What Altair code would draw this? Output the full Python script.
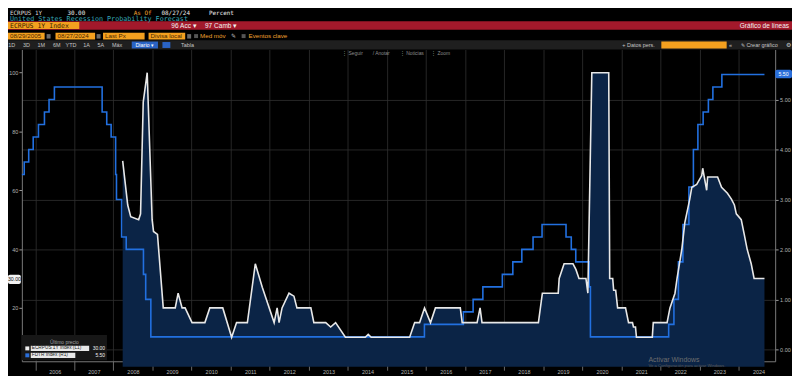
import altair as alt
import pandas as pd

# ---------------- data ----------------
ecr_dates = ["2008-03-28", "2008-05-14", "2008-06-11", "2008-08-24", "2008-09-11", "2008-10-06", "2008-11-12", "2008-12-28",
             "2009-01-10", "2009-02-16", "2009-04-11", "2009-08-01", "2009-08-28", "2009-10-04", "2009-11-01",
             "2010-01-05", "2010-05-05", "2010-06-20", "2010-10-19",
             "2011-01-10", "2011-02-25", "2011-06-06", "2011-08-19", "2011-10-23",
             "2012-02-11", "2012-03-10", "2012-03-28", "2012-04-25", "2012-06-29", "2012-08-14", "2012-09-11",
             "2013-01-19", "2013-02-16", "2013-06-07", "2013-07-23", "2013-09-07", "2013-12-08",
             "2014-06-11", "2014-07-09", "2014-08-06",
             "2015-07-31", "2015-09-16", "2015-11-01", "2015-12-17",
             "2016-02-11", "2016-03-28", "2016-11-15", "2016-12-03",
             "2017-04-21", "2017-05-19", "2017-06-06",
             "2018-11-15", "2018-12-22",
             "2019-05-19", "2019-05-28", "2019-07-13", "2019-10-04", "2019-11-01", "2019-11-29",
             "2020-02-02", "2020-02-20", "2020-03-28", "2020-09-02", "2020-09-11", "2020-10-09", "2020-10-18", "2020-11-06", "2020-11-24",
             "2021-02-06", "2021-03-06", "2021-04-12", "2021-04-21", "2021-05-10", "2021-05-19", "2021-10-14", "2021-10-23",
             "2022-03-01", "2022-03-28", "2022-05-14", "2022-06-02", "2022-07-17", "2022-08-14", "2022-09-29", "2022-10-18", "2022-12-03",
             "2023-01-19", "2023-01-28", "2023-03-06", "2023-03-15", "2023-06-16", "2023-07-23", "2023-09-16", "2023-10-23", "2023-11-20", "2023-12-08",
             "2024-01-23", "2024-02-20", "2024-03-18", "2024-04-25", "2024-05-22", "2024-08-27"]
ecr_values = [70, 55, 51, 50, 52, 90, 100, 50,
              46, 45, 20, 20, 25, 20, 20,
              15, 15, 20, 20,
              10, 15, 15, 35, 27,
              15, 20, 15, 20, 25, 24, 20,
              20, 15, 15, 13.5, 15, 10,
              10, 11, 10,
              10, 15, 15, 20,
              15, 20, 20, 15,
              15, 20, 15,
              15, 25,
              25, 30, 35, 35, 33, 30,
              30, 25, 100, 100, 30, 30, 26, 26, 20,
              20, 15, 15, 13.5, 13.5, 10, 10, 15,
              15, 20, 25, 30, 40, 49, 57, 61, 62,
              65, 67.5, 60, 64.5, 64.5, 61, 59, 57, 55, 52,
              50, 45, 40, 35, 30, 30]

fdtr_dates = ["2005-08-29", "2005-09-20", "2005-11-01", "2005-12-13", "2006-01-31", "2006-03-28", "2006-05-10", "2006-06-29",
              "2007-09-18", "2007-10-31", "2007-12-11", "2008-01-22", "2008-01-30", "2008-03-18", "2008-04-30",
              "2008-10-08", "2008-10-29", "2008-12-16", "2015-12-16", "2016-12-14", "2017-03-15", "2017-06-14",
              "2017-12-13", "2018-03-21", "2018-06-13", "2018-09-26", "2018-12-19", "2019-07-31", "2019-09-18",
              "2019-10-30", "2020-03-03", "2020-03-15", "2022-03-16", "2022-05-04", "2022-06-15", "2022-07-27",
              "2022-09-21", "2022-11-02", "2022-12-14", "2023-02-01", "2023-03-22", "2023-05-03", "2023-07-26",
              "2024-08-27"]
fdtr_values = [3.50, 3.75, 4.00, 4.25, 4.50, 4.75, 5.00, 5.25,
               4.75, 4.50, 4.25, 3.50, 3.00, 2.25, 2.00,
               1.50, 1.00, 0.25, 0.50, 0.75, 1.00, 1.25,
               1.50, 1.75, 2.00, 2.25, 2.50, 2.25, 2.00,
               1.75, 1.25, 0.25, 0.50, 1.00, 1.75, 2.50,
               3.25, 4.00, 4.50, 4.75, 5.00, 5.25, 5.50,
               5.50]

year_ticks = list(range(2006, 2025))
left_ticks = [20, 40, 60, 80, 100]
right_ticks = [0, 1, 2, 3, 4, 5]

# ---------------- layout ----------------
OX, OY = 22, 48          # plot origin on the page
W, H = 761, 315

ecr_df = pd.DataFrame({"date": ecr_dates, "v": ecr_values})
fdtr_df = pd.DataFrame({"date": fdtr_dates, "r": fdtr_values})

xscale = alt.Scale(type="utc",
                   domain=[alt.DateTime(year=2005, month=8, date=29, utc=True),
                           alt.DateTime(year=2024, month=12, date=5, utc=True)])
xaxis = alt.Axis(values=[alt.DateTime(year=y, month=1, date=1, utc=True) for y in year_ticks],
                 format="%Y", labelOffset=19.75, tickSize=9, labelPadding=-1,
                 grid=True, gridColor="#303030", gridWidth=0.8,
                 domainColor="#7a7a7a", tickColor="#6a6a6a", labelColor="#b4b4b4",
                 labelFontSize=5.5, labelFlush=False, labelOverlap=False, title=None)
lscale = alt.Scale(domain=[1.85, 107.9], nice=False, zero=False)
rscale = alt.Scale(domain=[-0.2376, 6.0], nice=False, zero=False)
laxis = alt.Axis(values=left_ticks, orient="left", grid=False, tickSize=3, labelPadding=1,
                 domainColor="#7a7a7a", tickColor="#9a9a9a", labelColor="#b4b4b4",
                 labelFontSize=5.5, title=None)
raxis = alt.Axis(values=right_ticks, orient="right", format=".2f", grid=True,
                 gridColor="#303030", gridWidth=0.8, tickSize=3, labelPadding=1.5,
                 domainColor="#7a7a7a", tickColor="#9a9a9a", labelColor="#b4b4b4",
                 labelFontSize=5.5, title=None)

X = alt.X("date:T", scale=xscale, axis=xaxis)

area = alt.Chart(ecr_df).mark_area(color="#0b2446").encode(
    x=X, y=alt.Y("v:Q", scale=lscale, axis=laxis), y2=alt.value(H))
blue = alt.Chart(fdtr_df).mark_line(color="#2270e0", strokeWidth=1.6, interpolate="step-after").encode(
    x=X, y=alt.Y("r:Q", scale=rscale, axis=raxis))
white = alt.Chart(ecr_df).mark_line(color="#e8e8e8", strokeWidth=1.6).encode(
    x=X, y=alt.Y("v:Q", scale=lscale, axis=None))

# ---------------- terminal chrome (page coordinates) ----------------
ORANGE = "#f3a01f"
BLUE_BTN = "#2a63c4"
rects = [
    (0, 19.6, 800, 28, "#a2192b"),
    (8, 20.3, 80, 27.3, ORANGE),
    (8, 31, 45, 38, ORANGE), (56, 31, 96, 38, ORANGE),
    (104, 31, 146, 38, ORANGE), (150, 31, 187, 38, ORANGE),
    (47, 32.5, 51, 37, "#6a6a6a"), (97.5, 32.5, 101.5, 37, "#6a6a6a"), (189, 32.5, 193, 37, "#6a6a6a"),
    (196, 32.5, 200, 36.5, "#555555"), (244, 32.5, 248, 36.5, "#555555"),
    (0, 38.8, 800, 48, "#1f1f1f"),
    (133, 40, 159.5, 47, BLUE_BTN), (164, 40.5, 172, 46.5, BLUE_BTN),
    (668, 40, 734, 47, ORANGE),
    (22, 336.5, 108, 362, "#171717"),
    (25.5, 348, 29.5, 352, "#f0f0f0"), (31, 347.3, 90, 352.7, "#e8e8e8"),
    (25.5, 355, 29.5, 359, "#2a6fdb"), (31, 354.3, 76, 359.7, "#e8e8e8"),
]
tags = [
    (8, 275.5, 21, 285, "#f2f2f2"),
    (783, 68.5, 800, 77, "#2a6fdb"),
]
MONO = "DejaVu Sans Mono"
SANS = "Liberation Sans"
texts = [
    (10, 10.8, "ECRPUS 1Y", "#d8d8d8", 6.0, "left", MONO),
    (68, 10.8, "30.00", "#ececec", 6.0, "left", MONO),
    (135, 10.8, "As Of", "#f0a030", 6.0, "left", MONO),
    (163, 10.8, "08/27/24", "#ececec", 6.0, "left", MONO),
    (211, 10.8, "Percent", "#ececec", 6.0, "left", MONO),
    (10, 16.9, "United States Recession Probability Forecast", "#36a8b8", 6.8, "left", MONO),
    (10, 23.9, "ECRPUS 1Y Index", "#3a1e00", 6.6, "left", MONO),
    (173, 23.9, "96 Acc ▾", "#f2f2f2", 6.6, "left", SANS),
    (207, 23.9, "97 Camb ▾", "#f2f2f2", 6.6, "left", SANS),
    (797, 23.9, "Gráfico de líneas", "#f2f2f2", 6.6, "right", SANS),
    (10, 34.6, "08/29/2005", "#4a2600", 6.3, "left", SANS),
    (58, 34.6, "08/27/2024", "#4a2600", 6.3, "left", SANS),
    (106, 34.6, "Last Px", "#4a2600", 6.3, "left", SANS),
    (152, 34.6, "Divisa local", "#4a2600", 6.3, "left", SANS),
    (202, 34.6, "Med móv", "#f0a030", 6.3, "left", SANS),
    (233, 34.6, "✎", "#bbbbbb", 6.3, "left", SANS),
    (251, 34.6, "Eventos clave", "#f0a030", 6.3, "left", SANS),
    (11.7, 43.5, "1D", "#c4c4c4", 5.5, "center", SANS),
    (26.7, 43.5, "3D", "#c4c4c4", 5.5, "center", SANS),
    (41.7, 43.5, "1M", "#c4c4c4", 5.5, "center", SANS),
    (57.3, 43.5, "6M", "#c4c4c4", 5.5, "center", SANS),
    (71.7, 43.5, "YTD", "#c4c4c4", 5.5, "center", SANS),
    (87.3, 43.5, "1A", "#c4c4c4", 5.5, "center", SANS),
    (101.7, 43.5, "5A", "#c4c4c4", 5.5, "center", SANS),
    (118.3, 43.5, "Máx", "#c4c4c4", 5.5, "center", SANS),
    (146.2, 43.5, "Diario ▾", "#ffffff", 5.5, "center", SANS),
    (189.3, 43.5, "Tabla", "#c4c4c4", 5.5, "center", SANS),
    (645, 43.5, "+ Datos pers.", "#c4c4c4", 5.5, "center", SANS),
    (738, 43.5, "«", "#c4c4c4", 5.5, "center", SANS),
    (767, 43.5, "✎ Crear gráfico", "#c4c4c4", 5.5, "center", SANS),
    (796, 43.5, "⚙", "#c4c4c4", 6.0, "center", SANS),
    (356, 51.8, "⋮ Seguir", "#8c8c8c", 5.0, "center", SANS),
    (385, 51.8, "/ Anotar", "#8c8c8c", 5.0, "center", SANS),
    (416, 51.8, "⋮ Noticias", "#8c8c8c", 5.0, "center", SANS),
    (445, 51.8, "⋮ Zoom", "#8c8c8c", 5.0, "center", SANS),
    (65, 343.5, "Último precio", "#a0a0a0", 5.0, "center", SANS),
    (32, 350.1, "ECRPUS 1Y Index  (L1)", "#222222", 4.8, "left", SANS),
    (106, 350.1, "30.00", "#f0f0f0", 5.0, "right", SANS),
    (32, 357.1, "FDTR Index  (R1)", "#222222", 4.8, "left", SANS),
    (106, 357.1, "5.50", "#f0f0f0", 5.0, "right", SANS),
    (14.5, 280.3, "30.00", "#111111", 5.3, "center", SANS),
    (791.5, 72.8, "5.50", "#ffffff", 5.3, "center", SANS),
    (655, 361.5, "Activar Windows", "#6e6e6e", 7.0, "left", SANS),
    (655, 368.2, "Ve a Configuración para activar Windows.", "#5c5c5c", 4.2, "left", SANS),
]

rdf = pd.DataFrame(rects, columns=["x1", "y1", "x2", "y2", "c"])
tgdf = pd.DataFrame(tags, columns=["x1", "y1", "x2", "y2", "c"])
for d in (rdf, tgdf):
    d[["x1", "x2"]] -= OX
    d[["y1", "y2"]] -= OY
tdf = pd.DataFrame(texts, columns=["x", "y", "t", "c", "s", "a", "f"])
tdf["x"] -= OX
tdf["y"] -= OY


def rect_layer(df, radius=0):
    return alt.Chart(df).mark_rect(cornerRadius=radius).encode(
        x=alt.X("x1:Q", scale=None), x2="x2:Q",
        y=alt.Y("y1:Q", scale=None), y2="y2:Q",
        color=alt.Color("c:N", scale=None))


layers = [area, blue, white, rect_layer(rdf), rect_layer(tgdf, 2)]
for (a, f), g in tdf.groupby(["a", "f"]):
    layers.append(
        alt.Chart(g.reset_index(drop=True)).mark_text(align=a, baseline="middle", font=f).encode(
            x=alt.X("x:Q", scale=None), y=alt.Y("y:Q", scale=None), text="t:N",
            color=alt.Color("c:N", scale=None), size=alt.Size("s:Q", scale=None)))

chart = alt.layer(*layers).resolve_scale(y="independent").properties(
    width=W, height=H,
    autosize=alt.AutoSizeParams(type="none"),
    padding={"left": 14, "top": 40, "right": 17, "bottom": 13},
    background="#000000",
).configure_view(stroke=None).configure_axis(labelFont=SANS)

chart.save("out.html", embed_options={"renderer": "svg", "actions": False})
